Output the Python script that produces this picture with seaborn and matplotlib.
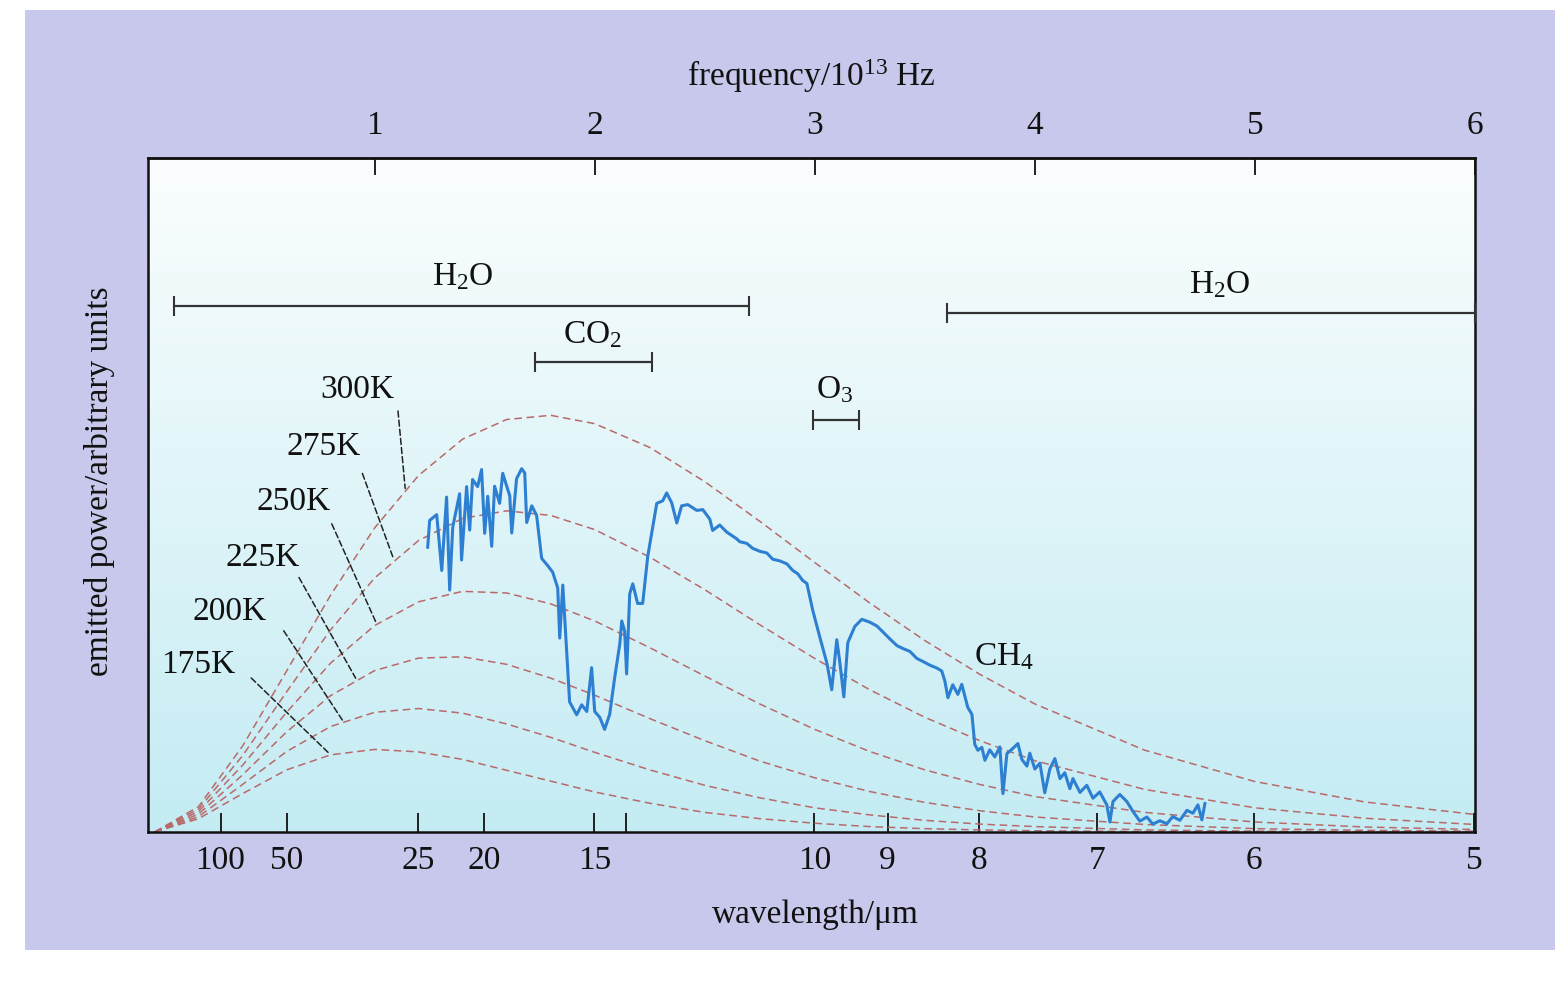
import numpy as np
import seaborn as sns
import matplotlib.pyplot as plt

# blackbody curves, emitted power (arbitrary units) read at these frequencies (10^13 Hz)
freq_grid = [0, 0.2, 0.4, 0.6, 0.8, 1.0, 1.2, 1.4, 1.6, 1.8, 2.0, 2.25, 2.5, 2.75,
             3.0, 3.25, 3.5, 3.75, 4.0, 4.5, 5.0, 5.5, 6.0]
bb_300 = [0, 6.1, 20.6, 38.6, 56.8, 72.9, 85.5, 94.2, 98.9, 99.9, 97.9, 92.2, 84.0, 74.5,
          64.6, 54.9, 45.9, 37.8, 30.7, 19.6, 12.1, 7.2, 4.2]
bb_275 = [0, 5.5, 18.3, 33.6, 48.5, 60.9, 69.9, 75.2, 77.0, 75.9, 72.5, 65.9, 58.1, 49.7,
          41.6, 34.1, 27.5, 21.9, 17.1, 10.2, 5.8, 3.3, 1.8]
bb_250 = [0, 4.9, 16.0, 28.7, 40.5, 49.5, 55.2, 57.7, 57.3, 54.7, 50.6, 44.2, 37.4, 30.7,
          24.6, 19.3, 14.9, 11.4, 8.5, 4.7, 2.4, 1.2, 0.6]
bb_225 = [0, 4.3, 13.7, 24.0, 32.7, 38.7, 41.7, 42.0, 40.2, 36.9, 32.8, 27.2, 21.9, 17.0,
          13.0, 9.7, 7.1, 5.1, 3.6, 1.8, 0.8, 0.4, 0.2]
bb_200 = [0, 3.7, 11.4, 19.3, 25.3, 28.7, 29.6, 28.5, 25.9, 22.7, 19.1, 14.9, 11.2, 8.2,
          5.8, 4.1, 2.8, 1.9, 1.3, 0.5, 0.2, 0.1, 0.0]
bb_175 = [0, 3.2, 9.2, 14.9, 18.5, 19.8, 19.2, 17.4, 14.8, 12.2, 9.6, 6.9, 4.7, 3.2,
          2.1, 1.3, 0.8, 0.5, 0.3, 0.1, 0.0, 0.0, 0.0]
temps = ['300K', '275K', '250K', '225K', '200K', '175K']

# measured spectrum
spec_freq = [1.241, 1.250, 1.282, 1.305, 1.327, 1.341, 1.355, 1.386, 1.395, 1.418,
             1.432, 1.445, 1.468, 1.486, 1.500, 1.514, 1.532, 1.545, 1.568, 1.582,
             1.614, 1.623, 1.645, 1.668, 1.682, 1.691, 1.714, 1.736, 1.759, 1.786,
             1.809, 1.832, 1.841, 1.855, 1.873, 1.886, 1.918, 1.941, 1.964, 1.986,
             2.000, 2.023, 2.045, 2.068, 2.091, 2.114, 2.123, 2.136, 2.145, 2.159,
             2.173, 2.195, 2.218, 2.241, 2.264, 2.282, 2.309, 2.327, 2.350, 2.373,
             2.395, 2.423, 2.464, 2.491, 2.523, 2.536, 2.568, 2.600, 2.645, 2.659,
             2.691, 2.718, 2.750, 2.782, 2.809, 2.841, 2.873, 2.900, 2.923, 2.945,
             2.964, 2.991, 3.023, 3.055, 3.077, 3.100, 3.114, 3.132, 3.150, 3.182,
             3.214, 3.250, 3.282, 3.309, 3.341, 3.373, 3.400, 3.432, 3.464, 3.491,
             3.523, 3.555, 3.577, 3.591, 3.605, 3.627, 3.650, 3.668, 3.695, 3.714,
             3.727, 3.741, 3.759, 3.773, 3.795, 3.818, 3.841, 3.855, 3.873, 3.895,
             3.923, 3.941, 3.964, 3.977, 4.000, 4.023, 4.045, 4.068, 4.091, 4.114,
             4.136, 4.159, 4.173, 4.205, 4.236, 4.264, 4.295, 4.327, 4.341, 4.355,
             4.386, 4.418, 4.445, 4.477, 4.509, 4.536, 4.568, 4.600, 4.627, 4.659,
             4.691, 4.718, 4.741, 4.759, 4.773]
spec_power = [68.2, 74.7, 76.1, 62.7, 80.3, 58.0, 73.1, 81.1, 65.2, 82.8,
              72.4, 84.5, 82.8, 86.9, 71.6, 80.5, 68.5, 82.9, 78.8, 86.0,
              80.6, 71.7, 84.7, 87.1, 86.1, 74.2, 78.2, 75.9, 65.6, 63.9,
              62.3, 58.5, 46.5, 59.2, 43.2, 31.2, 28.1, 30.5, 28.9, 39.4,
              28.9, 27.5, 24.6, 28.2, 37.1, 45.1, 50.6, 48.2, 37.9, 57.1,
              59.5, 54.8, 54.8, 66.1, 73.3, 78.8, 79.4, 81.3, 78.9, 74.1,
              78.2, 78.5, 77.1, 77.3, 75.0, 72.3, 73.6, 71.9, 70.3, 69.6,
              69.2, 68.0, 67.3, 66.9, 65.4, 65.0, 64.3, 62.7, 61.9, 60.3,
              59.6, 53.1, 46.7, 40.5, 34.1, 46.1, 40.6, 32.4, 45.4, 49.3,
              51.0, 50.3, 49.4, 48.0, 46.3, 44.7, 44.0, 43.3, 41.6, 40.9,
              40.0, 39.3, 38.6, 36.2, 32.2, 35.3, 33.0, 35.4, 29.9, 28.2,
              21.0, 19.6, 20.3, 17.2, 19.7, 18.0, 20.4, 9.2, 18.8, 19.8,
              21.2, 17.4, 15.8, 18.9, 15.1, 16.5, 9.4, 15.1, 17.6, 12.8,
              14.2, 10.4, 12.8, 9.5, 11.2, 8.1, 9.6, 6.5, 2.4, 7.3,
              9.0, 7.3, 5.0, 2.6, 3.6, 1.9, 2.7, 2.0, 3.7, 2.8,
              5.2, 4.5, 6.5, 2.9, 6.9]

# absorption bands: (label, start freq, end freq)
band_names = ['H$_2$O', 'CO$_2$', 'O$_3$', 'H$_2$O']
band_start = [0.09, 1.73, 2.99, 3.60]
band_end = [2.70, 2.26, 3.20, 6.00]

wavelengths = [100, 50, 25, 20, 15, 14, 10, 9, 8, 7, 6, 5]
wl_labels = ['100', '50', '25', '20', '15', '', '10', '9', '8', '7', '6', '5']
top_ticks = [1, 2, 3, 4, 5, 6]

sns.set_style('white')
plt.rcParams['font.family'] = ['Liberation Serif', 'DejaVu Serif']
plt.rcParams['mathtext.fontset'] = 'custom'
plt.rcParams['mathtext.rm'] = 'Liberation Serif'
plt.rcParams['mathtext.it'] = 'Liberation Serif:italic'
plt.rcParams['text.color'] = '#111'
plt.rcParams['axes.labelcolor'] = '#111'
plt.rcParams['xtick.color'] = '#111'
FS = 24

fig = plt.figure(figsize=(15.64, 9.83), dpi=100, facecolor='white')
fig.add_artist(plt.Rectangle((0.016, 0.034), 0.978, 0.956, transform=fig.transFigure,
                             facecolor='#c8c8ec', edgecolor='none', zorder=-10))
ax = fig.add_axes([0.0946, 0.1536, 0.8485, 0.6857])

# pale white-to-cyan plot background
grad = np.linspace(0, 1, 256)[:, None, None]
top_c = np.array([0.985, 0.995, 0.995])
bot_c = np.array([0.77, 0.925, 0.955])
ax.imshow(top_c + (bot_c - top_c) * grad, extent=[0, 1, 0, 1], transform=ax.transAxes,
          aspect='auto', zorder=0)

for vals in [bb_300, bb_275, bb_250, bb_225, bb_200, bb_175]:
    sns.lineplot(x=freq_grid, y=vals, ax=ax, color='#b86a6a', linewidth=1.1,
                 linestyle=(0, (5, 3)), estimator=None, legend=False, zorder=2)

sns.lineplot(x=spec_freq, y=spec_power, ax=ax, color='#2d7fd2', linewidth=2.2,
             estimator=None, sort=False, legend=False, zorder=3)

# temperature labels with leader lines
label_xy = [(0.92, 106.0), (0.77, 92.4), (0.63, 79.1), (0.49, 65.8), (0.34, 52.9), (0.20, 40.0)]
lead_from = [(1.105, 101.6), (0.94, 86.6), (0.80, 74.5), (0.65, 61.6), (0.58, 48.8), (0.43, 37.4)]
lead_to = [(1.14, 81.7), (1.09, 64.9), (1.01, 49.8), (0.92, 36.3), (0.86, 26.3), (0.80, 18.5)]
for t, xy, a, b in zip(temps, label_xy, lead_from, lead_to):
    ax.text(xy[0], xy[1], t, fontsize=FS, ha='center', va='center', zorder=4)
    ax.annotate('', xy=b, xytext=a,
                arrowprops=dict(arrowstyle='-', linestyle=(0, (4, 2)), lw=1.1, color='#222'))

# band markers
band_y = [126.0, 112.8, 98.8, 124.4]
band_label_xy = [(1.40, 133.0), (1.99, 119.3), (3.09, 106.0), (4.84, 131.2)]
for name, x0, x1, y, lxy in zip(band_names, band_start, band_end, band_y, band_label_xy):
    ax.plot([x0, x1], [y, y], color='#333', lw=1.6, marker='|', markersize=14,
            markeredgewidth=1.5, zorder=4)
    ax.text(lxy[0], lxy[1], name, fontsize=FS, ha='center', va='center', zorder=4)
ax.text(3.86, 42.0, 'CH$_4$', fontsize=FS, ha='center', va='center', zorder=4)

ax.set_xlim(-0.03, 6.0)
ax.set_ylim(0, 161.6)
ax.set_yticks([])
ax.set_xticks([29.98 / w for w in wavelengths])
ax.set_xticklabels(wl_labels)
ax.tick_params(axis='x', direction='in', length=14, width=1.3, pad=10,
               labelsize=FS, bottom=True)
for s in ax.spines.values():
    s.set_color('#111')
    s.set_linewidth(1.8)
    s.set_visible(True)

sec = ax.secondary_xaxis('top')
sec.set_xticks(top_ticks)
sec.tick_params(direction='in', length=12, width=1.3, pad=12, labelsize=FS)
sec.spines['top'].set_linewidth(1.8)
sec.set_xlabel('frequency/10$^{13}$ Hz', fontsize=FS, labelpad=18)

ax.set_xlabel('wavelength/μm', fontsize=FS)
ax.xaxis.set_label_coords(0.503, -0.10)
ax.set_ylabel('emitted power/arbitrary units', fontsize=FS)
ax.yaxis.set_label_coords(-0.025, 0.52)

fig.savefig('out.png', dpi=100, facecolor=fig.get_facecolor())
